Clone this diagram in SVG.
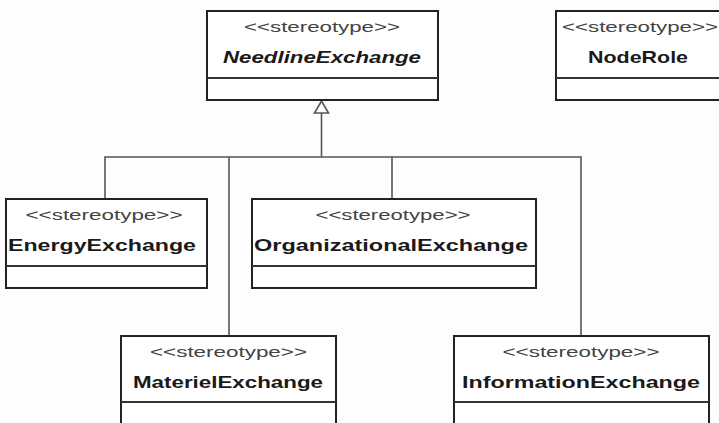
<svg xmlns="http://www.w3.org/2000/svg" width="719" height="423" viewBox="0 0 719 423">
<style>
.box{fill:#ffffff;stroke:#222;stroke-width:2}
.div{stroke:#333;stroke-width:2}
.st{font-family:"Liberation Sans",Arial,sans-serif;font-size:14px;fill:#444;text-anchor:middle}
.nm{font-family:"Liberation Sans",Arial,sans-serif;font-size:17px;font-weight:bold;fill:#1a1a1a;text-anchor:middle}
.it{font-style:italic}
.conn{fill:none;stroke:#555;stroke-width:1.6}
</style>
<rect width="719" height="423" fill="#fdfdfd"/>
<g id="connectors">
<polyline class="conn" points="105,199 105,157 581,157 581,336"/>
<line class="conn" x1="229" y1="157" x2="229" y2="336"/>
<line class="conn" x1="392" y1="157" x2="392" y2="199"/>
<line class="conn" x1="321.5" y1="157" x2="321.5" y2="113"/>
<polygon points="321.5,101 314.5,113 328.5,113" fill="#fff" stroke="#555" stroke-width="1.6"/>
</g>
<g id="NeedlineExchange">
<rect class="box" x="207" y="11" width="231" height="89"/>
<line class="div" x1="207" y1="78" x2="438" y2="78"/>
<text class="st" x="322" y="32" textLength="156" lengthAdjust="spacingAndGlyphs">&lt;&lt;stereotype&gt;&gt;</text>
<text class="nm it" x="322" y="63" textLength="198" lengthAdjust="spacingAndGlyphs">NeedlineExchange</text>
</g>
<g id="NodeRole">
<rect class="box" x="556" y="11" width="166" height="89"/>
<line class="div" x1="556" y1="78" x2="722" y2="78"/>
<text class="st" x="640" y="32" textLength="156" lengthAdjust="spacingAndGlyphs">&lt;&lt;stereotype&gt;&gt;</text>
<text class="nm" x="638" y="63" textLength="100" lengthAdjust="spacingAndGlyphs">NodeRole</text>
</g>
<g id="EnergyExchange">
<rect class="box" x="6" y="199" width="201" height="89"/>
<line class="div" x1="6" y1="266" x2="207" y2="266"/>
<text class="st" x="104" y="220" textLength="157" lengthAdjust="spacingAndGlyphs">&lt;&lt;stereotype&gt;&gt;</text>
<text class="nm" x="102" y="251" textLength="188" lengthAdjust="spacingAndGlyphs">EnergyExchange</text>
</g>
<g id="OrganizationalExchange">
<rect class="box" x="252" y="199" width="284" height="89"/>
<line class="div" x1="252" y1="266" x2="536" y2="266"/>
<text class="st" x="393" y="220" textLength="155" lengthAdjust="spacingAndGlyphs">&lt;&lt;stereotype&gt;&gt;</text>
<text class="nm" x="391" y="251" textLength="274" lengthAdjust="spacingAndGlyphs">OrganizationalExchange</text>
</g>
<g id="MaterielExchange">
<rect class="box" x="121" y="336" width="215" height="100"/>
<line class="div" x1="121" y1="402" x2="336" y2="402"/>
<text class="st" x="228.5" y="357" textLength="157" lengthAdjust="spacingAndGlyphs">&lt;&lt;stereotype&gt;&gt;</text>
<text class="nm" x="228" y="388" textLength="190" lengthAdjust="spacingAndGlyphs">MaterielExchange</text>
</g>
<g id="InformationExchange">
<rect class="box" x="454" y="336" width="255" height="100"/>
<line class="div" x1="454" y1="402" x2="709" y2="402"/>
<text class="st" x="581" y="357" textLength="157" lengthAdjust="spacingAndGlyphs">&lt;&lt;stereotype&gt;&gt;</text>
<text class="nm" x="581" y="388" textLength="238" lengthAdjust="spacingAndGlyphs">InformationExchange</text>
</g>
</svg>
